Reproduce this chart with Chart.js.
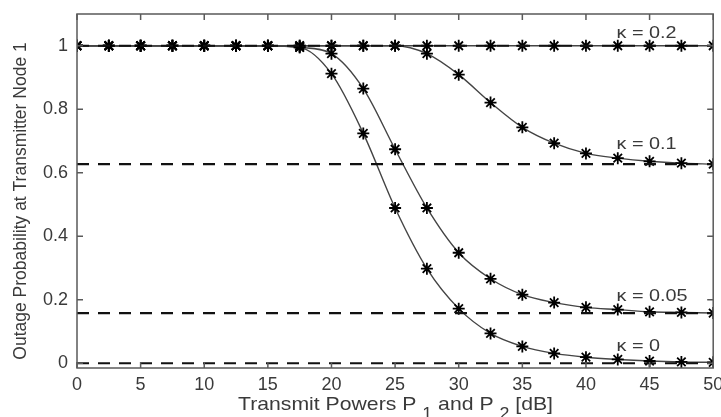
<!DOCTYPE html>
<html>
<head>
<meta charset="utf-8">
<script src="https://cdn.jsdelivr.net/npm/chart.js@4.4.0/dist/chart.umd.min.js"></script>
<style>
    body { margin: 0; background: #fff; }
    #wrap { width: 721px; height: 417px; }
</style>
</head>
<body>
<div id="wrap"><canvas id="outageChart" width="721" height="417"></canvas></div>
<script>
// Transmit power grid (dB) and outage probability per kappa
const powerDb = [0, 2.5, 5, 7.5, 10, 12.5, 15, 17.5, 20, 22.5, 25, 27.5, 30, 32.5, 35, 37.5, 40, 42.5, 45, 47.5, 50];
const outK0   = [1, 1, 1, 1, 1, 1, 1, 0.995, 0.912, 0.724, 0.489, 0.298, 0.172, 0.094, 0.053, 0.031, 0.019, 0.012, 0.007, 0.004, 0.003];
const outK005 = [1, 1, 1, 1, 1, 1, 1, 0.995, 0.975, 0.865, 0.674, 0.489, 0.348, 0.266, 0.216, 0.191, 0.176, 0.169, 0.162, 0.160, 0.158];
const outK01  = [1, 1, 1, 1, 1, 1, 1, 1, 1, 1, 1, 0.975, 0.909, 0.821, 0.743, 0.693, 0.661, 0.646, 0.636, 0.630, 0.627];
const outK02  = [1, 1, 1, 1, 1, 1, 1, 1, 1, 1, 1, 1, 1, 1, 1, 1, 1, 1, 1, 1, 1];

// high-SNR floors (dashed)
const floorLevels = [1, 0.627, 0.158, 0];

// curve labels and where they sit (data units)
const kappaLabels = ['κ = 0.2', 'κ = 0.1', 'κ = 0.05', 'κ = 0'];
const kappaLabelY = [1.038, 0.69, 0.21, 0.053];
const kappaLabelX = 42.4;

const xTicks = [0, 5, 10, 15, 20, 25, 30, 35, 40, 45, 50];
const yTicks = [0, 0.2, 0.4, 0.6, 0.8, 1];

const FONT = '"Liberation Sans", Arial, sans-serif';
const TEXT = '#3a3a3a';

const toPoints = ys => ys.map((y, i) => ({ x: powerDb[i], y: y }));

const curveSet = (label, ys) => ({
    label: label,
    data: toPoints(ys),
    borderColor: '#444',
    borderWidth: 1.4,
    cubicInterpolationMode: 'monotone',
    pointStyle: 'star',
    pointRadius: 6,
    pointBorderColor: '#000',
    pointBorderWidth: 1.8,
    fill: false
});

const floorSet = level => ({
    label: 'floor ' + level,
    data: [{ x: 0, y: level }, { x: 50, y: level }],
    borderColor: '#111',
    borderWidth: 2.2,
    borderDash: [12, 9],
    pointRadius: 0,
    fill: false
});

// MATLAB-ish box with inward ticks, titles and kappa labels
const decorations = {
    id: 'decorations',
    afterDraw(chart) {
        const { ctx, chartArea: a, scales: { x, y } } = chart;
        ctx.save();

        // frame
        ctx.strokeStyle = '#5a5a5a';
        ctx.lineWidth = 1.5;
        ctx.strokeRect(a.left, a.top, a.right - a.left, a.bottom - a.top);
        ctx.beginPath();
        xTicks.forEach(v => {
            const px = x.getPixelForValue(v);
            ctx.moveTo(px, a.bottom); ctx.lineTo(px, a.bottom - 6);
            ctx.moveTo(px, a.top); ctx.lineTo(px, a.top + 6);
        });
        yTicks.forEach(v => {
            const py = y.getPixelForValue(v);
            ctx.moveTo(a.left, py); ctx.lineTo(a.left + 6, py);
            ctx.moveTo(a.right, py); ctx.lineTo(a.right - 6, py);
        });
        ctx.stroke();

        // kappa labels
        ctx.fillStyle = TEXT;
        ctx.font = '16px ' + FONT;
        ctx.textBaseline = 'middle';
        ctx.textAlign = 'left';
        const kScale = 71 / ctx.measureText('κ = 0.05').width;
        kappaLabels.forEach((txt, i) => {
            ctx.save();
            ctx.translate(x.getPixelForValue(kappaLabelX), y.getPixelForValue(kappaLabelY[i]));
            ctx.scale(kScale, 1);
            ctx.fillText(txt, 0, 0);
            ctx.restore();
        });

        // y title
        ctx.save();
        ctx.font = '17.5px ' + FONT;
        ctx.textAlign = 'center';
        ctx.translate(21, 201);
        ctx.rotate(-Math.PI / 2);
        ctx.fillText('Outage Probability at Transmitter Node 1', 0, 0);
        ctx.restore();

        // x title with subscripts
        const parts = [
            ['Transmit Powers P ', false],
            ['1', true],
            [' and P ', false],
            ['2', true],
            [' [dB]', false]
        ];
        ctx.textBaseline = 'alphabetic';
        let total = 0;
        parts.forEach(([t, sub]) => {
            ctx.font = (sub ? '16px ' : '19px ') + FONT;
            total += ctx.measureText(t).width;
        });
        const xs = 315 / total;
        ctx.save();
        ctx.translate(238, 0);
        ctx.scale(xs, 1);
        let cx = 0;
        parts.forEach(([t, sub]) => {
            ctx.font = (sub ? '16px ' : '19px ') + FONT;
            ctx.fillText(t, cx, sub ? 419 : 410);
            cx += ctx.measureText(t).width;
        });
        ctx.restore();

        ctx.restore();
    }
};

new Chart(document.getElementById('outageChart'), {
    type: 'line',
    data: {
        datasets: [
            ...floorLevels.map(floorSet),
            curveSet('κ = 0.2', outK02),
            curveSet('κ = 0.1', outK01),
            curveSet('κ = 0.05', outK005),
            curveSet('κ = 0', outK0)
        ]
    },
    options: {
        responsive: false,
        animation: false,
        layout: { padding: { top: 14, right: 2, left: 0, bottom: 0 } },
        plugins: {
            legend: { display: false },
            tooltip: { enabled: false }
        },
        scales: {
            x: {
                type: 'linear',
                min: 0,
                max: 50,
                grid: { display: false, drawTicks: false },
                border: { display: false },
                afterBuildTicks: s => { s.ticks = xTicks.map(v => ({ value: v })); },
                afterFit: s => { s.height = 49; s.paddingLeft = 0; s.paddingRight = 0; },
                ticks: {
                    color: TEXT,
                    padding: 6,
                    maxRotation: 0,
                    font: { family: FONT, size: 18 }
                }
            },
            y: {
                type: 'linear',
                min: -0.015,
                max: 1.1,
                grid: { display: false, drawTicks: false },
                border: { display: false },
                afterBuildTicks: s => { s.ticks = yTicks.map(v => ({ value: v })); },
                afterFit: s => { s.width = 77; s.paddingTop = 0; s.paddingBottom = 0; },
                ticks: {
                    color: TEXT,
                    padding: 9,
                    font: { family: FONT, size: 18 },
                    callback: v => String(v)
                }
            }
        }
    },
    plugins: [decorations]
});
</script>
</body>
</html>
